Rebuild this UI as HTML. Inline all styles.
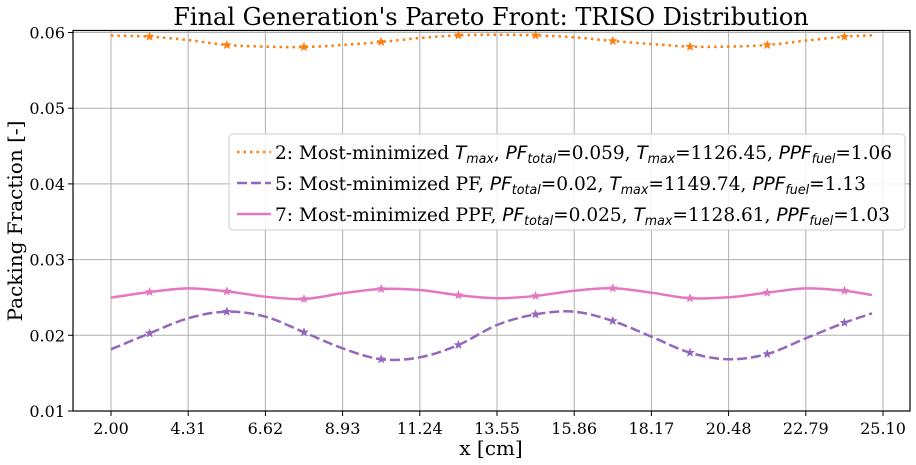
<!DOCTYPE html>
<html><head><meta charset="utf-8"><style>
html,body{margin:0;padding:0;background:#fff}
svg{display:block;font-family:"DejaVu Serif","Liberation Serif",serif}
</style></head><body>
<svg id="chart" width="916" height="465" viewBox="0 0 916 465" xmlns="http://www.w3.org/2000/svg">
<rect x="0" y="0" width="916" height="465" fill="#fff"/>
<text x="491" y="25" text-anchor="middle" font-size="24" fill="#000">Final Generation's Pareto Front: TRISO Distribution</text>
<g id="grid"></g>
<g id="series"></g>
<rect x="73" y="30.5" width="837" height="380.5" fill="none" stroke="#000" stroke-width="1.2"/>
<g id="ticks"></g>
<text x="491" y="455" text-anchor="middle" font-size="20">x [cm]</text>
<text transform="translate(22,221) rotate(-90)" text-anchor="middle" font-size="20">Packing Fraction [-]</text>
<g>
<rect x="229" y="134" width="676" height="96" rx="4" fill="#fff" fill-opacity="0.85" stroke="#ccc"/>
<g>
<line x1="237" y1="152" x2="271" y2="152" stroke="#ff7f0e" stroke-width="2.5" stroke-dasharray="2.5 4"/>
<text x="275" y="159" font-size="19" textLength="617" lengthAdjust="spacingAndGlyphs">2: Most-minimized <tspan font-family="DejaVu Sans" font-style="italic">T</tspan><tspan font-family="DejaVu Sans" font-style="italic" font-size="13" dy="4">max</tspan><tspan dy="-4">, </tspan><tspan font-family="DejaVu Sans" font-style="italic">PF</tspan><tspan font-family="DejaVu Sans" font-style="italic" font-size="13" dy="4">total</tspan><tspan dy="-4">=0.059, </tspan><tspan font-family="DejaVu Sans" font-style="italic">T</tspan><tspan font-family="DejaVu Sans" font-style="italic" font-size="13" dy="4">max</tspan><tspan dy="-4">=1126.45, </tspan><tspan font-family="DejaVu Sans" font-style="italic">PPF</tspan><tspan font-family="DejaVu Sans" font-style="italic" font-size="13" dy="4">fuel</tspan><tspan dy="-4">=1.06</tspan></text>
</g>
<g>
<line x1="237" y1="183" x2="271" y2="183" stroke="#9467bd" stroke-width="2.5" stroke-dasharray="10 4"/>
<text x="275" y="190" font-size="19" textLength="591" lengthAdjust="spacingAndGlyphs">5: Most-minimized PF, <tspan font-family="DejaVu Sans" font-style="italic">PF</tspan><tspan font-family="DejaVu Sans" font-style="italic" font-size="13" dy="4">total</tspan><tspan dy="-4">=0.02, </tspan><tspan font-family="DejaVu Sans" font-style="italic">T</tspan><tspan font-family="DejaVu Sans" font-style="italic" font-size="13" dy="4">max</tspan><tspan dy="-4">=1149.74, </tspan><tspan font-family="DejaVu Sans" font-style="italic">PPF</tspan><tspan font-family="DejaVu Sans" font-style="italic" font-size="13" dy="4">fuel</tspan><tspan dy="-4">=1.13</tspan></text>
</g>
<g>
<line x1="237" y1="214" x2="271" y2="214" stroke="#e377c2" stroke-width="2.5"/>
<text x="275" y="221" font-size="19" textLength="615" lengthAdjust="spacingAndGlyphs">7: Most-minimized PPF, <tspan font-family="DejaVu Sans" font-style="italic">PF</tspan><tspan font-family="DejaVu Sans" font-style="italic" font-size="13" dy="4">total</tspan><tspan dy="-4">=0.025, </tspan><tspan font-family="DejaVu Sans" font-style="italic">T</tspan><tspan font-family="DejaVu Sans" font-style="italic" font-size="13" dy="4">max</tspan><tspan dy="-4">=1128.61, </tspan><tspan font-family="DejaVu Sans" font-style="italic">PPF</tspan><tspan font-family="DejaVu Sans" font-style="italic" font-size="13" dy="4">fuel</tspan><tspan dy="-4">=1.03</tspan></text>
</g>
</g>
</svg>
<script>
const xValues = [2, 3.155, 4.31, 5.465, 6.62, 7.775, 8.93, 10.085, 11.24, 12.395, 13.55, 14.705, 15.86, 17.015, 18.17, 19.325, 20.48, 21.635, 22.79, 23.945, 24.77];
const orangeValues = [0.0596, 0.05945, 0.0590, 0.05835, 0.05813, 0.05808, 0.05835, 0.05875, 0.05927, 0.05962, 0.0597, 0.05962, 0.05937, 0.05888, 0.05848, 0.05813, 0.05813, 0.05835, 0.05892, 0.05945, 0.05962];
const purpleValues = [0.01815, 0.02026, 0.02225, 0.02312, 0.02246, 0.0204, 0.01828, 0.01683, 0.01709, 0.01872, 0.02136, 0.02277, 0.02312, 0.02189, 0.01982, 0.0177, 0.01683, 0.01753, 0.0196, 0.02166, 0.0229];
const pinkValues = [0.02497, 0.02572, 0.0262, 0.0258, 0.0251, 0.0248, 0.02555, 0.02612, 0.02598, 0.0253, 0.0249, 0.0252, 0.02589, 0.02621, 0.02563, 0.02489, 0.02502, 0.02563, 0.0262, 0.02589, 0.02532];
const xTickLabels = ["2.00","4.31","6.62","8.93","11.24","13.55","15.86","18.17","20.48","22.79","25.10"];
const yTickLabels = ["0.01","0.02","0.03","0.04","0.05","0.06"];

const NS = "http://www.w3.org/2000/svg";
function xScale(v){ return 111 + (v - 2) * 33.42; }
function yScale(v){ return 411 - (v - 0.01) * 7570; }
function mk(tag, attrs, parent){ const e = document.createElementNS(NS, tag); for (const k in attrs) e.setAttribute(k, attrs[k]); parent.appendChild(e); return e; }

const grid = document.getElementById('grid'), ticks = document.getElementById('ticks'), series = document.getElementById('series');
xTickLabels.forEach(function(t){
  const v = parseFloat(t), x = xScale(v);
  const g = mk('line', {x1:x, x2:x, y1:30.5, y2:411, stroke:'#b0b0b0', 'stroke-width':1}, grid);
  
  
  const tk = mk('line', {x1:x, x2:x, y1:411, y2:416, stroke:'#000', 'stroke-width':1}, ticks);
  
  
  const lb = mk('text', {x:x, y:434, 'text-anchor':'middle', 'font-size':16}, ticks);
  lb.textContent = t;
  
  
});
yTickLabels.forEach(function(t){
  const v = parseFloat(t), y = yScale(v);
  const g = mk('line', {x1:73, x2:910, y1:y, y2:y, stroke:'#b0b0b0', 'stroke-width':1}, grid);
  
  
  const tk = mk('line', {x1:68, x2:73, y1:y, y2:y, stroke:'#000', 'stroke-width':1}, ticks);
  
  
  const lb = mk('text', {x:65, y:y+6, 'text-anchor':'end', 'font-size':16}, ticks);
  lb.textContent = t;
  
  
});

function smoothPath(vals){
  const p = xValues.map(function(x,i){ return [xScale(x), yScale(vals[i])]; });
  let d = 'M' + p[0][0] + ',' + p[0][1];
  for (let i = 0; i < p.length - 1; i++){
    const p0 = p[Math.max(0,i-1)], p1 = p[i], p2 = p[i+1], p3 = p[Math.min(p.length-1,i+2)];
    const c1x = p1[0] + (p2[0]-p0[0])/6, c1y = p1[1] + (p2[1]-p0[1])/6;
    const c2x = p2[0] - (p3[0]-p1[0])/6, c2y = p2[1] - (p3[1]-p1[1])/6;
    d += ' C' + c1x + ',' + c1y + ' ' + c2x + ',' + c2y + ' ' + p2[0] + ',' + p2[1];
  }
  return d;
}
function starPath(cx, cy, r){
  let d = '';
  for (let i = 0; i < 10; i++){
    const rr = i % 2 ? r * 0.42 : r, a = -Math.PI/2 + i * Math.PI/5;
    d += (i ? 'L' : 'M') + (cx + rr*Math.cos(a)) + ',' + (cy + rr*Math.sin(a));
  }
  return d + 'Z';
}
function drawSeries(vals, color, dash, name){
  const g = mk('g', {}, series);
  
  
  const attrs = {d: smoothPath(vals), fill:'none', stroke:color, 'stroke-width':2.5};
  if (dash) attrs['stroke-dasharray'] = dash;
  const l = mk('path', attrs, g);
  
  
  xValues.forEach(function(x, i){
    if (i % 2 === 1){
      const m = mk('path', {d: starPath(xScale(x), yScale(vals[i]), 4.5), fill:color, stroke:color, 'stroke-width':0.5}, g);
      
      
    }
  });
}
drawSeries(orangeValues, '#ff7f0e', '2.5 4', 'series-2-most-minimized-tmax');
drawSeries(purpleValues, '#9467bd', '10 4', 'series-5-most-minimized-pf');
drawSeries(pinkValues, '#e377c2', null, 'series-7-most-minimized-ppf');
</script>
</body></html>
